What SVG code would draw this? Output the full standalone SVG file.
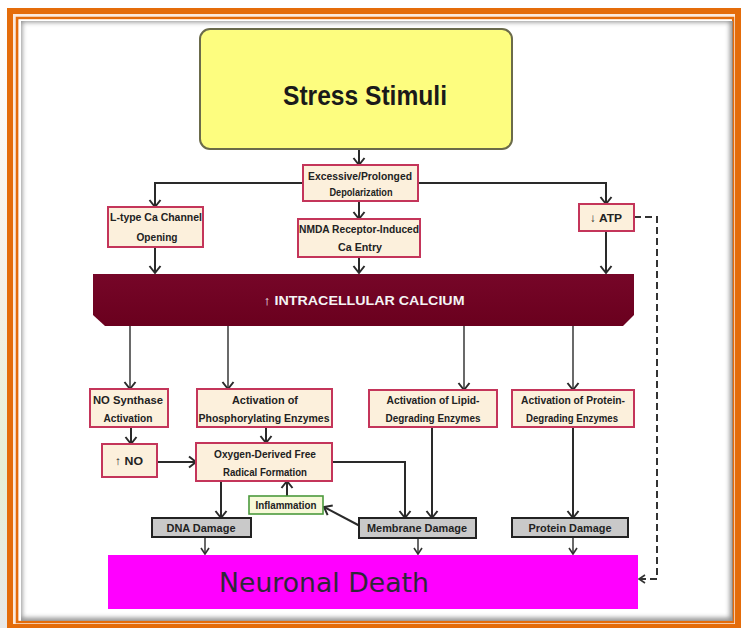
<svg xmlns="http://www.w3.org/2000/svg" width="741" height="628" viewBox="0 0 741 628">
<defs>
<style>
.bx{fill:#fcf0dc;stroke:#c4355a;stroke-width:2}
.gb{fill:#c9c9c9;stroke:#222;stroke-width:2}
.t{font-family:"Liberation Sans",Arial,sans-serif;font-weight:bold;font-size:11.5px;fill:#222;text-anchor:middle}
.c{fill:none;stroke:#2a2a2a;stroke-width:2}
.cv{fill:none;stroke:#444;stroke-width:1.6}
</style>
<marker id="ah" markerUnits="userSpaceOnUse" markerWidth="14" markerHeight="14" viewBox="0 0 14 14" refX="8" refY="7" orient="auto">
<path d="M1,1.5 L8,7 L1,12.5" fill="none" stroke="#2a2a2a" stroke-width="2"/>
</marker>
<marker id="as" markerUnits="userSpaceOnUse" markerWidth="12" markerHeight="12" viewBox="0 0 12 12" refX="7" refY="6" orient="auto">
<path d="M1,2 L7,6 L1,10" fill="none" stroke="#333" stroke-width="1.6"/>
</marker>
<filter id="ish" x="-5%" y="-5%" width="110%" height="110%">
<feGaussianBlur stdDeviation="2.5"/>
</filter>
<clipPath id="inner"><rect x="21" y="21" width="712" height="600"/></clipPath>
<linearGradient id="barg" x1="0" y1="0" x2="0" y2="1">
<stop offset="0" stop-color="#760628"/>
<stop offset="1" stop-color="#6a001e"/>
</linearGradient>
<linearGradient id="side" x1="0" y1="0" x2="0" y2="1">
<stop offset="0" stop-color="#ffffff"/>
<stop offset="0.45" stop-color="#f4f0e8"/>
<stop offset="0.75" stop-color="#e6efd6"/>
<stop offset="1" stop-color="#e8e8e8"/>
</linearGradient>
</defs>
<rect x="0" y="0" width="741" height="628" fill="#ffffff"/>
<rect x="0" y="8" width="7" height="620" fill="url(#side)"/>
<g id="frame">
<rect x="7" y="8" width="734" height="620" fill="#e46c0a"/>
<rect x="13" y="14" width="722" height="610" fill="#fbe9dc"/>
<rect x="17" y="18" width="716" height="604" fill="none" stroke="#e46c0a" stroke-width="2.5"/>
<rect x="19" y="19.5" width="713" height="601" fill="#ffffff"/>
<g clip-path="url(#inner)">
<rect x="19" y="19" width="714" height="602" fill="none" stroke="#8a8a8a" stroke-width="6" filter="url(#ish)"/>
</g>
</g>
<g id="connectors">
<path class="c" d="M359,149 V165" marker-end="url(#ah)"/>
<path class="c" d="M303,183 H155 V207" marker-end="url(#ah)"/>
<path class="c" d="M418,183 H606 V204" marker-end="url(#ah)"/>
<path class="c" d="M359,201 V219" marker-end="url(#ah)"/>
<path class="c" d="M155,247 V273" marker-end="url(#ah)"/>
<path class="c" d="M359,257 V273" marker-end="url(#ah)"/>
<path class="c" d="M606,231 V273" marker-end="url(#ah)"/>
<path class="cv" d="M130,326 V389" marker-end="url(#ah)"/>
<path class="cv" d="M228,326 V389" marker-end="url(#ah)"/>
<path class="cv" d="M464,326 V390" marker-end="url(#ah)"/>
<path class="cv" d="M573,326 V390" marker-end="url(#ah)"/>
<path class="c" d="M131,427 V444" marker-end="url(#ah)"/>
<path class="c" d="M266,427 V443" marker-end="url(#ah)"/>
<path class="c" d="M157,462 H196" marker-end="url(#ah)"/>
<path class="c" d="M332,462 H405 V518" marker-end="url(#ah)"/>
<path class="c" d="M432,427 V518" marker-end="url(#ah)"/>
<path class="c" d="M573,427 V518" marker-end="url(#ah)"/>
<path class="c" d="M221,481 V518" marker-end="url(#ah)"/>
<path class="c" d="M287,496 V481" marker-end="url(#ah)"/>
<path class="c" d="M360,526 L324,507" marker-end="url(#ah)"/>
<path class="cv" d="M205,537 V554" marker-end="url(#as)"/>
<path class="cv" d="M418,538 V554" marker-end="url(#as)"/>
<path class="cv" d="M573,537 V554" marker-end="url(#as)"/>
<path d="M634,217 H657 V579 H639" fill="none" stroke="#333" stroke-width="2" stroke-dasharray="7,4" marker-end="url(#as)"/>
</g>
<g id="stress">
<rect x="200" y="29" width="312" height="120" rx="10" fill="#fdfd7f" stroke="#6b6b4a" stroke-width="2"/>
<text x="365" y="105" font-family="Liberation Sans,Arial,sans-serif" font-weight="bold" font-size="27" fill="#1a1a1a" text-anchor="middle" textLength="164" lengthAdjust="spacingAndGlyphs">Stress Stimuli</text>
</g>
<g id="excessive">
<rect class="bx" x="303" y="165" width="115" height="36"/>
<text class="t" x="360" y="180" textLength="104" lengthAdjust="spacingAndGlyphs">Excessive/Prolonged</text>
<text class="t" x="361" y="196" textLength="63" lengthAdjust="spacingAndGlyphs">Depolarization</text>
</g>
<g id="ltype">
<rect class="bx" x="108" y="207" width="95" height="40"/>
<text class="t" x="156" y="221" textLength="92" lengthAdjust="spacingAndGlyphs">L-type Ca Channel</text>
<text class="t" x="157" y="241" textLength="41" lengthAdjust="spacingAndGlyphs">Opening</text>
</g>
<g id="nmda">
<rect class="bx" x="298" y="219" width="122" height="38"/>
<text class="t" x="359" y="233" textLength="120" lengthAdjust="spacingAndGlyphs">NMDA Receptor-Induced</text>
<text class="t" x="360" y="251" textLength="44" lengthAdjust="spacingAndGlyphs">Ca Entry</text>
</g>
<g id="atp">
<rect class="bx" x="579" y="204" width="55" height="27"/>
<text class="t" x="606" y="222" textLength="32" lengthAdjust="spacingAndGlyphs">↓ ATP</text>
</g>
<g id="calcium">
<polygon points="93,274 634,274 634,315 623,326 105,326 93,315" fill="url(#barg)"/>
<text x="364" y="305" font-family="Liberation Sans,Arial,sans-serif" font-weight="bold" font-size="13" fill="#f4f4f4" text-anchor="middle" textLength="201" lengthAdjust="spacingAndGlyphs">↑ INTRACELLULAR CALCIUM</text>
</g>
<g id="nosynthase">
<rect class="bx" x="90" y="389" width="78" height="38"/>
<text class="t" x="128" y="404" textLength="70" lengthAdjust="spacingAndGlyphs">NO Synthase</text>
<text class="t" x="128" y="422" textLength="49" lengthAdjust="spacingAndGlyphs">Activation</text>
</g>
<g id="phospho">
<rect class="bx" x="197" y="389" width="135" height="38"/>
<text class="t" x="265" y="404" textLength="66" lengthAdjust="spacingAndGlyphs">Activation of</text>
<text class="t" x="264" y="422" textLength="131" lengthAdjust="spacingAndGlyphs">Phosphorylating Enzymes</text>
</g>
<g id="lipid">
<rect class="bx" x="369" y="390" width="128" height="37"/>
<text class="t" x="433" y="404" textLength="93" lengthAdjust="spacingAndGlyphs">Activation of Lipid-</text>
<text class="t" x="433" y="422" textLength="95" lengthAdjust="spacingAndGlyphs">Degrading Enzymes</text>
</g>
<g id="protein">
<rect class="bx" x="512" y="390" width="122" height="37"/>
<text class="t" x="573" y="404" textLength="104" lengthAdjust="spacingAndGlyphs">Activation of Protein-</text>
<text class="t" x="572" y="422" textLength="92" lengthAdjust="spacingAndGlyphs">Degrading Enzymes</text>
</g>
<g id="no">
<rect class="bx" x="102" y="444" width="55" height="33"/>
<text class="t" x="129" y="465" textLength="28" lengthAdjust="spacingAndGlyphs">↑ NO</text>
</g>
<g id="oxygen">
<rect class="bx" x="196" y="443" width="136" height="38"/>
<text class="t" x="265" y="458" textLength="102" lengthAdjust="spacingAndGlyphs">Oxygen-Derived Free</text>
<text class="t" x="265" y="476" textLength="84" lengthAdjust="spacingAndGlyphs">Radical Formation</text>
</g>
<g id="inflammation">
<rect x="249" y="496" width="74" height="18" fill="#f7f9d9" stroke="#4b9a3c" stroke-width="1.6"/>
<text class="t" x="286" y="509" style="font-size:10.5px" textLength="61" lengthAdjust="spacingAndGlyphs">Inflammation</text>
</g>
<g id="dna">
<rect class="gb" x="152" y="518" width="99" height="19"/>
<text class="t" x="201" y="532" textLength="69" lengthAdjust="spacingAndGlyphs">DNA Damage</text>
</g>
<g id="membrane">
<rect class="gb" x="359" y="518" width="117" height="20"/>
<text class="t" x="417" y="532" textLength="100" lengthAdjust="spacingAndGlyphs">Membrane Damage</text>
</g>
<g id="proteindamage">
<rect class="gb" x="512" y="518" width="116" height="19"/>
<text class="t" x="570" y="532" textLength="83" lengthAdjust="spacingAndGlyphs">Protein Damage</text>
</g>
<g id="neuronal">
<rect x="108" y="555" width="530" height="54" fill="#ff00ff"/>
<text x="324" y="592" font-family="DejaVu Sans,Verdana,sans-serif" font-size="27" fill="#2e2838" text-anchor="middle" textLength="210" lengthAdjust="spacingAndGlyphs">Neuronal Death</text>
</g>
</svg>
